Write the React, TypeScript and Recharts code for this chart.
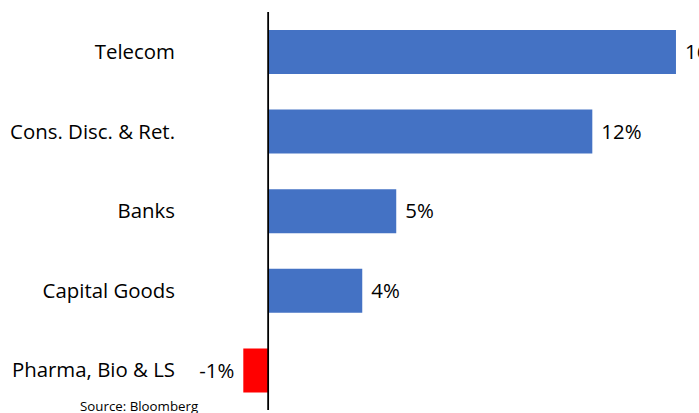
import React from 'react';
import { BarChart, Bar, XAxis, YAxis, Cell, LabelList, ReferenceLine } from 'recharts';

const sectors = ['Telecom', 'Cons. Disc. & Ret.', 'Banks', 'Capital Goods', 'Pharma, Bio & LS'];
const returns = [15.6, 12.4, 4.9, 3.6, -0.95];
const xDomain = [-1, 20];

const data = sectors.map((sector, i) => ({ sector, value: returns[i] }));

const FONT = '"Open Sans", sans-serif';

export default function App() {
    // chart runs past the right edge so the Telecom label gets cut like in the original
    return (
        <div style={{ position: 'relative', width: 699, height: 413, overflow: 'hidden', fontFamily: FONT }}>
            <style>{'body { margin: 0; }'}</style>
            <BarChart
                width={791}
                height={413}
                data={data}
                layout="vertical"
                margin={{ top: 12, right: 0, bottom: 3, left: 0 }}
            >
                <XAxis type="number" domain={xDomain} hide allowDataOverflow />
                <YAxis
                    type="category"
                    dataKey="sector"
                    width={242}
                    axisLine={false}
                    tickLine={false}
                    tickSize={0}
                    tickMargin={67}
                    tick={{ fill: '#000', fontSize: 20.4, fontFamily: FONT }}
                />
                <Bar dataKey="value" barSize={44} isAnimationActive={false}>
                    {data.map(d => (
                        <Cell key={d.sector} fill={d.value < 0 ? '#FF0000' : '#4472C4'} />
                    ))}
                    <LabelList
                        dataKey="value"
                        position="right"
                        offset={9}
                        formatter={(v: any) => `${Math.round(Number(v))}%`}
                        style={{ fill: '#000', fontSize: 20.4, fontFamily: FONT }}
                    />
                </Bar>
                <ReferenceLine x={0} stroke="#000" strokeWidth={1.8} ifOverflow="extendDomain" />
            </BarChart>
            <div style={{ position: 'absolute', left: 80, top: 400, fontSize: 13.3, lineHeight: '13px', color: '#000', whiteSpace: 'nowrap' }}>
                Source: Bloomberg
            </div>
        </div>
    );
}
